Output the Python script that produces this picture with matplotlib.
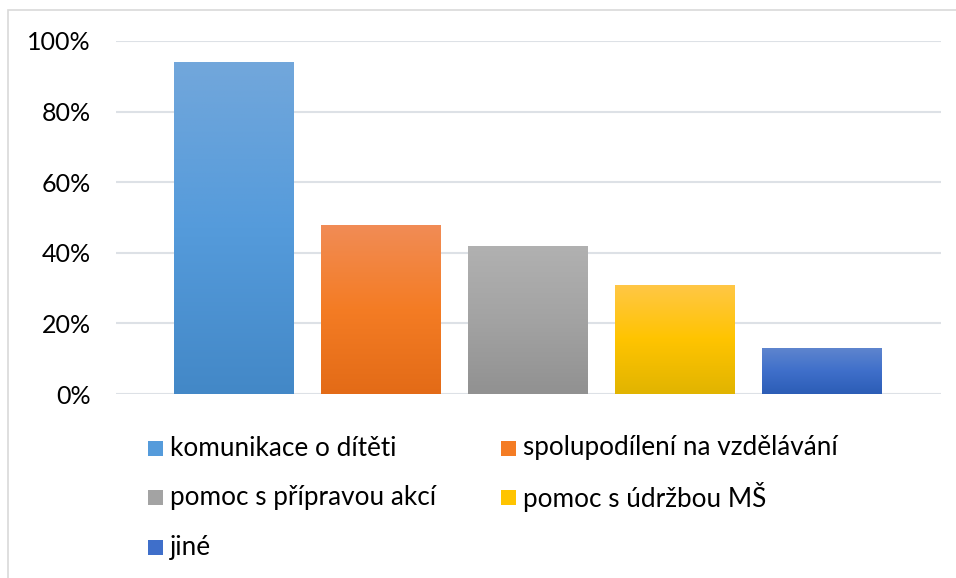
import numpy as np
import matplotlib.pyplot as plt
from matplotlib.colors import LinearSegmentedColormap
from matplotlib.patches import Rectangle

plt.rcParams['font.family'] = ['Lato', 'DejaVu Sans']

labels = ['komunikace o dítěti', 'spolupodílení na vzdělávání', 'pomoc s přípravou akcí',
          'pomoc s údržbou MŠ', 'jiné']
values = [0.94, 0.48, 0.42, 0.31, 0.13]
# top, middle, bottom of each gradient
grads = [('#72A7DB', '#559BDB', '#4388C7'),
         ('#F18C56', '#F47C24', '#E36B17'),
         ('#B1B1B1', '#A3A3A3', '#919191'),
         ('#FFC747', '#FFC400', '#E1B400'),
         ('#5E85CE', '#3F6FCA', '#2C5DB6')]
yticks = [0, 0.2, 0.4, 0.6, 0.8, 1.0]
ytick_labels = ['0%', '20%', '40%', '60%', '80%', '100%']

W, H = 956, 578
fig = plt.figure(figsize=(W / 100, H / 100), dpi=100)
ax = fig.add_axes([116 / W, (H - 394) / H, (941 - 116) / W, (394 - 41) / H])

width = 120 / 147
x = np.arange(len(values))
bars = ax.bar(x, values, width=width, color='none', zorder=3)
for b, g in zip(bars, grads):
    cmap = LinearSegmentedColormap.from_list('g', [g[2], g[1], g[0]])
    x0, y0 = b.get_x(), b.get_y()
    im = ax.imshow(np.linspace(0, 1, 256).reshape(-1, 1), cmap=cmap, origin='lower',
                   extent=[x0, x0 + b.get_width(), y0, y0 + b.get_height()],
                   aspect='auto', zorder=3)
    im.set_clip_path(b)

ax.set_xlim(-(234 - 116) / 147, 4 + (941 - 822) / 147)
ax.set_ylim(0, 1)
ax.set_yticks(yticks)
ax.set_yticklabels(ytick_labels, fontsize=18)
ax.set_xticks([])
ax.tick_params(axis='y', length=0, pad=18)
ax.grid(axis='y', color='#DDE1E6', linewidth=1.5, zorder=0)
for s in ax.spines.values():
    s.set_visible(False)

# chart frame
fig.patches.append(Rectangle((8 / W, -0.1), 1.2, (H - 10) / H + 0.1, transform=fig.transFigure,
                             fill=False, edgecolor='#D9D9D9', linewidth=1.2))

# legend, row-major in two columns
col_x = [148, 501]
row_y = [448, 497, 547]
for i, (lab, g) in enumerate(zip(labels, grads)):
    cx = col_x[i % 2]
    cy = row_y[i // 2]
    fig.patches.append(Rectangle((cx / W, (H - cy - 7.5) / H), 15 / W, 15 / H,
                                 transform=fig.transFigure, facecolor=g[1], edgecolor='none'))
    fig.text((cx + 22) / W, (H - cy) / H, lab, fontsize=18.8, va='center', ha='left', color='#000000')

fig.savefig('out.png', dpi=100)
